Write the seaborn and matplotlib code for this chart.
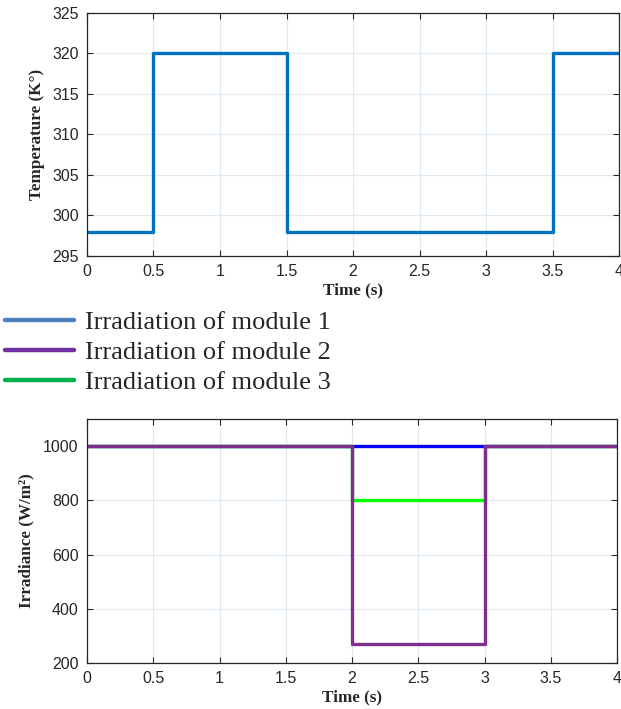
import matplotlib
matplotlib.use("Agg")
import matplotlib.pyplot as plt
from matplotlib.lines import Line2D
import seaborn as sns
import pandas as pd

# ---- data ----
temp_time = [0, 0.5, 1.5, 3.5, 4]
temp_vals = [298, 320, 298, 320, 320]

irr_time = [0, 2, 3, 4]
irr_mod1 = [1000, 1000, 1000, 1000]
irr_mod2 = [1000, 270, 1000, 1000]
irr_mod3 = [1000, 800, 1000, 1000]

legend_labels = ["Irradiation of module 1", "Irradiation of module 2", "Irradiation of module 3"]
legend_colors = ["#4F81BD", "#7030A0", "#00B050"]

x_ticks = [0, 0.5, 1, 1.5, 2, 2.5, 3, 3.5, 4]
x_ticklabels = ["0", "0.5", "1", "1.5", "2", "2.5", "3", "3.5", "4"]
temp_ticks = [295, 300, 305, 310, 315, 320, 325]
irr_ticks = [200, 400, 600, 800, 1000]

sns.set_theme(style="white")
plt.rcParams['font.family'] = ['Liberation Sans', 'DejaVu Sans']

fig = plt.figure(figsize=(6.21, 7.09), dpi=100)
ax1 = fig.add_axes([0.140, 0.639, 0.857, 0.343])
ax2 = fig.add_axes([0.140, 0.065, 0.854, 0.344])

grid_col = "#dfe9f3"
tick_col = "#262626"
label_font = dict(family="Liberation Serif", weight="bold", size=12.3, color="#262626")

def style(ax):
    ax.set_facecolor("white")
    ax.grid(True, color=grid_col, linewidth=0.8)
    ax.set_axisbelow(True)
    for s in ax.spines.values():
        s.set_visible(True)
        s.set_color("#262626")
        s.set_linewidth(0.9)
    ax.tick_params(direction="in", length=4, width=0.8, top=True, right=True,
                   bottom=True, left=True, labelsize=11.5, colors=tick_col, pad=6)
    ax.set_xlim(0, 4)
    ax.set_xticks(x_ticks)
    ax.set_xticklabels(x_ticklabels)

# top
df_t = pd.DataFrame({"t": temp_time, "T": temp_vals})
sns.lineplot(data=df_t, x="t", y="T", ax=ax1, color="#0072BD", linewidth=2.4,
             drawstyle="steps-post", estimator=None)
style(ax1)
ax1.set_ylim(295, 325)
ax1.set_yticks(temp_ticks)
ax1.set_xlabel("Time (s)", fontdict=label_font, labelpad=2)
ax1.set_ylabel("Temperature (K°)", fontdict=label_font, labelpad=5)

# bottom
df_i = pd.DataFrame({"t": irr_time, "m1": irr_mod1, "m2": irr_mod2, "m3": irr_mod3})
sns.lineplot(data=df_i, x="t", y="m1", ax=ax2, color="#0000FF", linewidth=2.4,
             drawstyle="steps-post", estimator=None)
sns.lineplot(data=df_i, x="t", y="m3", ax=ax2, color="#00FF00", linewidth=2.4,
             drawstyle="steps-post", estimator=None)
sns.lineplot(data=df_i, x="t", y="m2", ax=ax2, color="#7E2F8E", linewidth=2.4,
             drawstyle="steps-post", estimator=None)
style(ax2)
ax2.set_ylim(200, 1100)
ax2.set_yticks(irr_ticks)
ax2.set_xlabel("Time (s)", fontdict=label_font, labelpad=2)
ax2.set_ylabel("Irradiance (W/m²)", fontdict=label_font, labelpad=6)

handles = [Line2D([0], [0], color=c, linewidth=3.2) for c in legend_colors]
fig.legend(handles, legend_labels, loc="upper left", bbox_to_anchor=(0.008, 0.562),
           frameon=False, prop=dict(family="Liberation Serif", size=19),
           handlelength=2.6, handletextpad=0.42, labelspacing=0.25, borderaxespad=0.0,
           borderpad=0.0)

fig.savefig("out.png", dpi=100)
